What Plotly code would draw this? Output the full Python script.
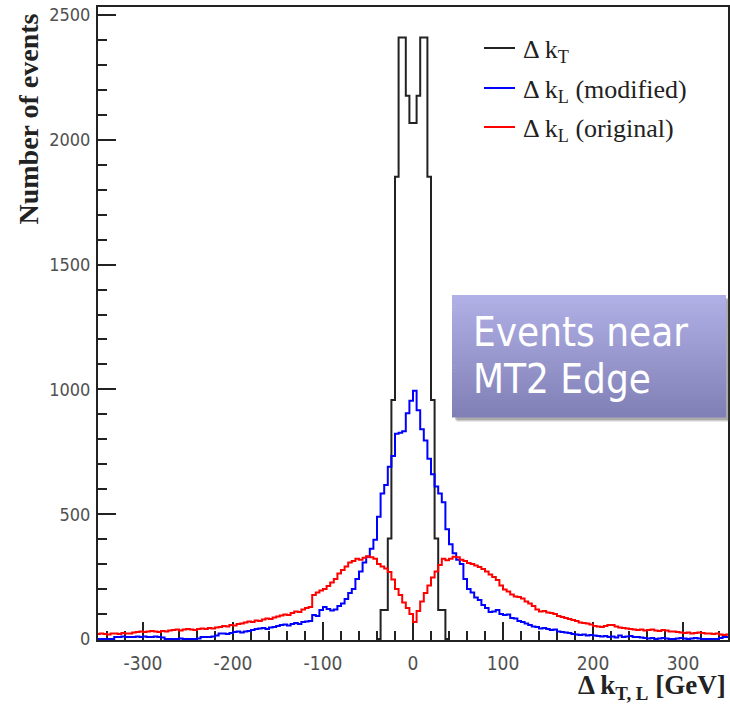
import numpy as np
import plotly.graph_objects as go

# ---------------------------------------------------------------
# Histogram contents (4 GeV bins)
# ---------------------------------------------------------------
bin_width = 4
edge_lo = -352          # first lower edge of the blue / red histograms

# Delta k_L (original) -- one value per 4 GeV bin from -352 to 352
dkl_original = [
    20, 22, 20, 18, 22, 22, 20, 24, 22, 22,            # -352 .. -312
    26, 28, 30, 28, 30, 32, 30, 28, 32, 30,            # -312 .. -272
    34, 36, 38, 34, 38, 40, 38, 36, 40, 42,            # -272 .. -232
    40, 44, 42, 46, 48, 52, 50, 56, 54, 60,            # -232 .. -192
    62, 66, 70, 68, 74, 72, 78, 82, 80, 86,            # -192 .. -152
    90, 94, 98, 96, 104, 110, 108, 118, 124, 128,      # -152 .. -112
    176, 186, 194, 200, 212, 226, 240, 262, 276, 290,  # -112 .. -72
    306, 312, 322, 318, 326, 332, 328, 322, 300, 290,  # -72 .. -32
    282, 268, 238, 200, 176, 146, 124, 100, 68, 112,   # -32 .. 8
    150, 184, 214, 246, 270, 296, 322, 316, 322, 330,  # 8 .. 48
    328, 318, 312, 304, 300, 294, 288, 280, 270, 258,  # 48 .. 88
    248, 236, 214, 198, 190, 178, 170, 168, 162, 150,  # 88 .. 128
    142, 132, 118, 110, 112, 106, 104, 100, 92, 88,    # 128 .. 168
    84, 80, 76, 72, 66, 64, 62, 58, 52, 50,            # 168 .. 208
    48, 52, 56, 56, 50, 46, 44, 42, 40, 38,            # 208 .. 248
    36, 38, 34, 36, 38, 34, 32, 36, 34, 30,            # 248 .. 288
    30, 28, 26, 24, 26, 22, 24, 26, 24, 22,            # 288 .. 328
    22, 20, 22, 18, 16, 18,                            # 328 .. 352
]

# Delta k_L (modified)
dkl_modified = [
    0, 0, 0, 0, 0, 8, 8, 10, 8, 8,                     # -352 .. -312
    8, 10, 8, 10, 8, 8, 10, 8, 6, 0,                   # -312 .. -272
    0, 0, 0, 2, 0, 0, 0, 0, 2, 8,                      # -272 .. -232
    8, 8, 10, 14, 22, 22, 20, 24, 28, 30,              # -232 .. -192
    26, 30, 32, 36, 40, 42, 44, 40, 46, 48,            # -192 .. -152
    52, 56, 58, 54, 60, 64, 60, 68, 70, 72,            # -152 .. -112
    96, 92, 116, 128, 120, 114, 118, 132, 142, 160,    # -112 .. -72
    184, 200, 240, 270, 306, 330, 362, 398, 490, 583,  # -72 .. -32
    617, 690, 733, 822, 826, 832, 904, 955, 995, 916,  # -32 .. 8
    840, 795, 722, 660, 611, 583, 548, 440, 380, 344,  # 8 .. 48
    318, 300, 240, 200, 186, 166, 156, 136, 124, 108,  # 48 .. 88
    110, 116, 100, 96, 98, 84, 82, 72, 68, 62,         # 88 .. 128
    56, 50, 48, 42, 44, 40, 36, 38, 30, 28,            # 128 .. 168
    26, 24, 20, 18, 16, 18, 14, 16, 14, 12,            # 168 .. 208
    10, 12, 8, 10, 6, 14, 8, 10, 12, 8,                # 208 .. 248
    8, 6, 4, 2, 4, 0, 2, 4, 2, 0,                      # 248 .. 288
    0, 2, 4, 2, 0, 2, 4, 2, 0, 0,                      # 288 .. 328
    0, 0, 0, 4, 8, 8,                                  # 328 .. 352
]

# Delta k_T -- only non-empty around zero
dkt_edge_lo = -40
dkt = [0, 116, 116, 403, 958, 1852, 2410, 2410, 2176, 2067,
       2067, 2176, 2410, 2410, 1852, 958, 403, 116, 116, 0]

series = [
    ("Δ k<sub>T</sub>", dkt_edge_lo, dkt, "#222222"),
    ("Δ k<sub>L</sub> (modified)", edge_lo, dkl_modified, "#0000ff"),
    ("Δ k<sub>L</sub> (original)", edge_lo, dkl_original, "#ff0000"),
]

x_ticks = [-300, -200, -100, 0, 100, 200, 300]
x_tick_text = ["-300", "-200", "-100", "0", "100", "200", "300"]
y_ticks = [0, 500, 1000, 1500, 2000, 2500]

# ---------------------------------------------------------------
# Page geometry (pixels)
# ---------------------------------------------------------------
W, H = 730, 704
PL, PR, PT, PB = 98, 728, 7, 640      # plot-area box


def fx(x):
    return (x - PL) / (PR - PL)


def fy(y):
    return (PB - y) / (PB - PT)


fig = go.Figure()

for name, lo, counts, color in series:
    edges = lo + bin_width * np.arange(len(counts) + 1)
    yy = list(counts) + [counts[-1]]
    fig.add_trace(go.Scatter(
        x=edges, y=yy, mode="lines", name=name,
        line=dict(color=color, width=2, shape="hv"),
        showlegend=False, hoverinfo="skip",
    ))

tick_font = dict(family="DejaVu Sans Condensed, DejaVu Sans", size=18, color="#505050")
axis_common = dict(
    showgrid=False, zeroline=False, showline=True, mirror=True,
    linecolor="#222222", linewidth=2,
    ticks="inside", ticklen=18, tickwidth=2, tickcolor="#222222",
    tickfont=tick_font, layer="below traces", automargin=False,
)

fig.update_layout(
    width=W, height=H,
    margin=dict(l=PL, r=W - PR, t=PT, b=H - PB),
    paper_bgcolor="white", plot_bgcolor="white",
    xaxis=dict(axis_common, range=[-350, 350],
               tickvals=x_ticks, ticktext=x_tick_text,
               minor=dict(ticks="inside", ticklen=9, tickwidth=2,
                          tickcolor="#222222", dtick=20, tick0=0),
               ticklabelstandoff=5,
               tickfont=dict(tick_font, size=19)),
    yaxis=dict(axis_common, range=[-4, 2532], tickvals=y_ticks,
               minor=dict(ticks="inside", ticklen=9, tickwidth=2,
                          tickcolor="#222222", dtick=100, tick0=0),
               ticklabelstandoff=2),
)

annotations = []
shapes = []

# axis titles
annotations.append(dict(
    text="Number of events", textangle=-90,
    x=fx(28), y=fy(12), xref="paper", yref="paper",
    xanchor="center", yanchor="top", showarrow=False,
    font=dict(family="Liberation Serif", size=28, color="#222222", weight="bold"),
))
annotations.append(dict(
    text="Δ k<sub>T, L</sub> [GeV]",
    x=fx(728), y=fy(687), xref="paper", yref="paper",
    xanchor="right", yanchor="middle", showarrow=False,
    font=dict(family="Liberation Serif", size=27, color="#222222", weight="bold"),
))

# legend
leg_rows = [48, 88, 127]
for (name, _, _, color), ry in zip(series, leg_rows):
    shapes.append(dict(type="line", xref="paper", yref="paper",
                       x0=fx(484), x1=fx(515), y0=fy(ry), y1=fy(ry),
                       line=dict(color=color, width=2)))
    annotations.append(dict(
        text=name, x=fx(521), y=fy(ry + 3), xref="paper", yref="paper",
        xanchor="left", yanchor="middle", showarrow=False,
        font=dict(family="Liberation Serif", size=26, color="#222222"),
    ))

# callout box with drop shadow and vertical gradient
bx0, by0, bx1, by1 = 452, 295, 726, 417
for off, alpha in [(5, 0.12), (4, 0.18), (3, 0.25)]:
    shapes.append(dict(type="rect", xref="paper", yref="paper", layer="above",
                       x0=fx(bx0 + off), x1=fx(bx1 + off),
                       y0=fy(by0 + off), y1=fy(by1 + off),
                       fillcolor=f"rgba(70,70,70,{alpha})", line=dict(width=0)))
top_c = np.array([176, 176, 230])
bot_c = np.array([128, 128, 182])
n_strips = 40
for i in range(n_strips):
    t = i / (n_strips - 1)
    c = (1 - t) * top_c + t * bot_c
    ya = by0 + (by1 - by0) * i / n_strips
    yb = by0 + (by1 - by0) * (i + 1) / n_strips
    shapes.append(dict(type="rect", xref="paper", yref="paper", layer="above",
                       x0=fx(bx0), x1=fx(bx1), y0=fy(ya), y1=fy(yb + 0.6),
                       fillcolor=f"rgb({c[0]:.0f},{c[1]:.0f},{c[2]:.0f})",
                       line=dict(width=0)))

for txt, cy in [("Events near", 332), ("MT2 Edge", 379)]:
    annotations.append(dict(
        text=txt, x=fx(471), y=fy(cy), xref="paper", yref="paper",
        xanchor="left", yanchor="middle", showarrow=False,
        font=dict(family="DejaVu Sans Condensed, DejaVu Sans", size=40, color="white"),
    ))

fig.update_layout(annotations=annotations, shapes=shapes)

fig.write_html("out.html")
